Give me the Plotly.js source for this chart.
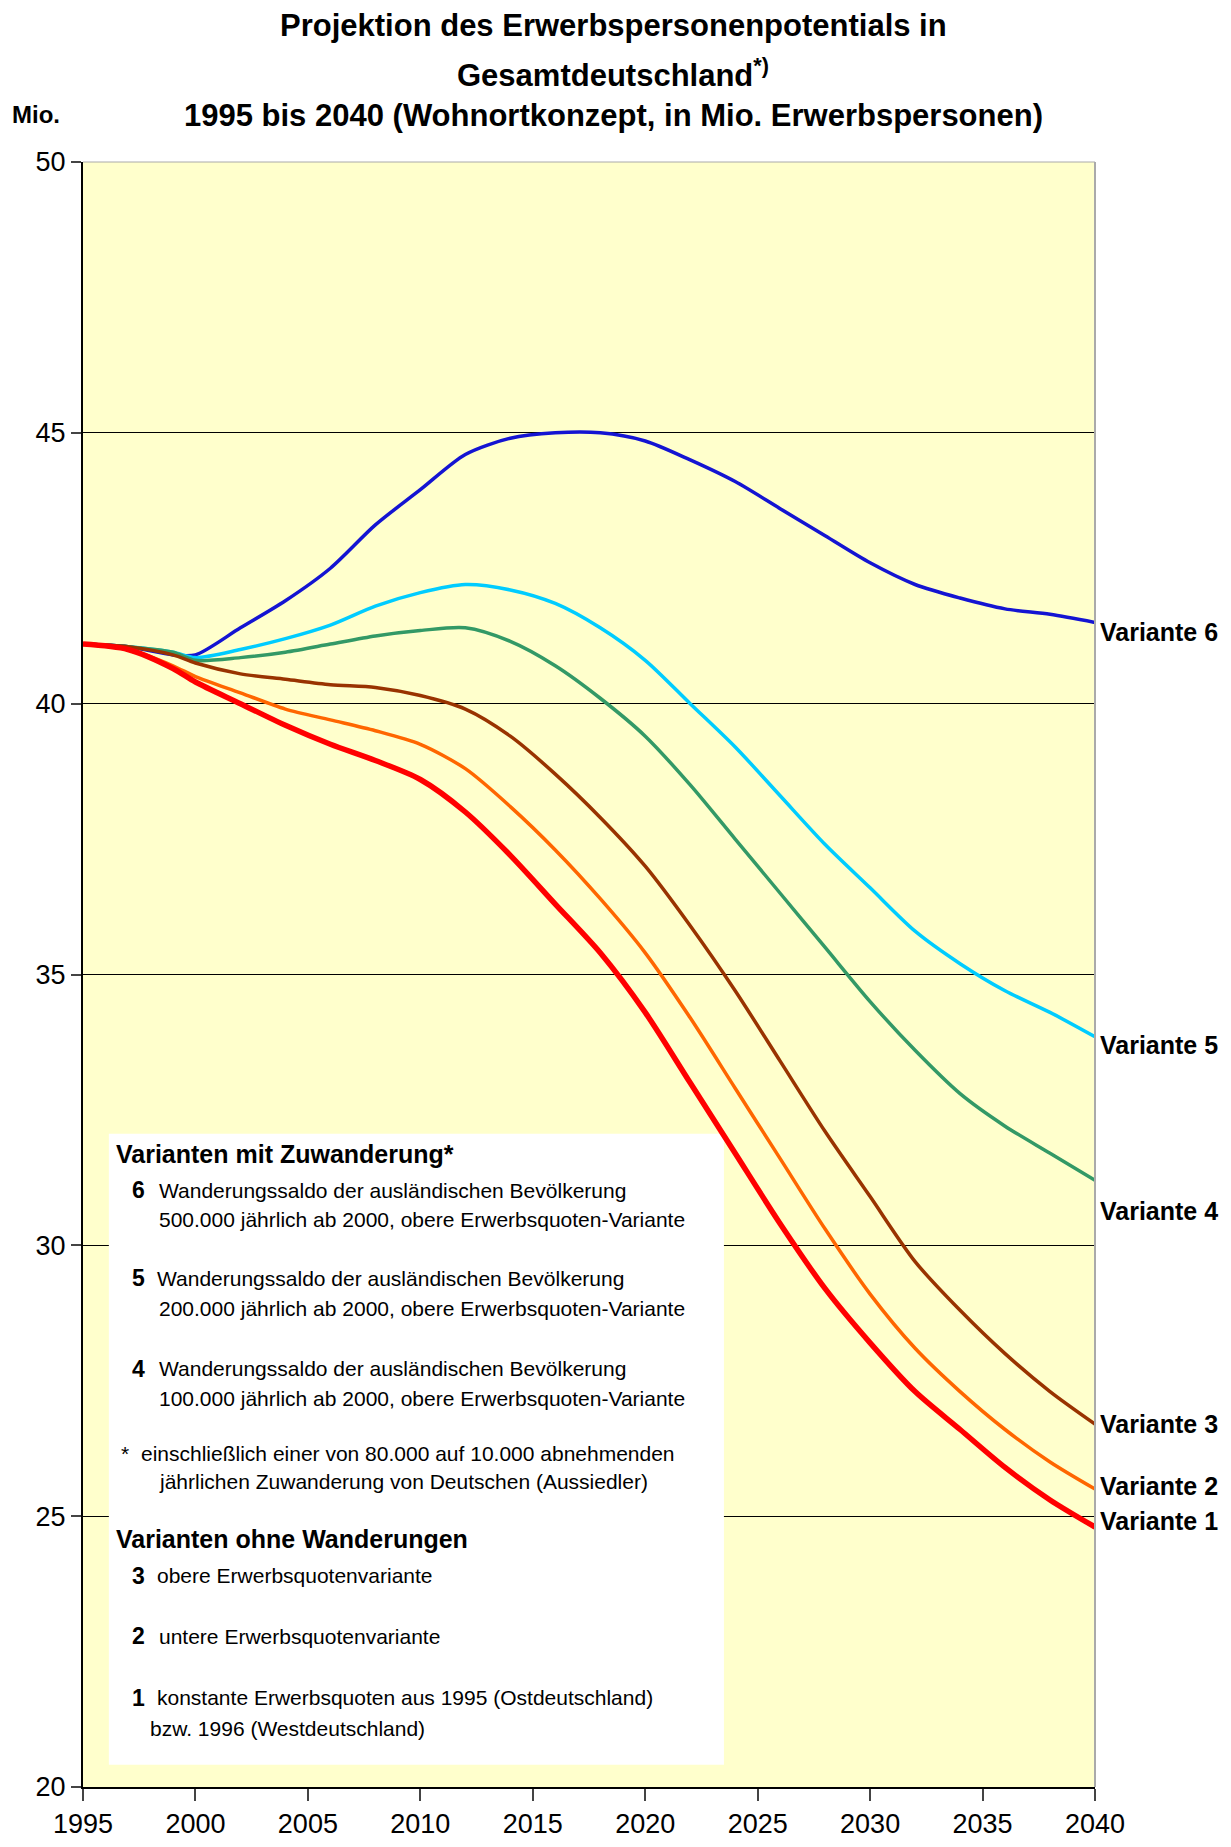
<!DOCTYPE html>
<html><head><meta charset="utf-8">
<script src="https://cdn.plot.ly/plotly-3.0.1.min.js"></script>
<style>body{margin:0;background:#fff}#c{width:1231px;height:1847px}</style>
</head><body><div id="c"></div>
<script>
const years = [1995,1997,1999,2000,2002,2004,2006,2008,2010,2012,2014,2016,2018,2020,2022,2024,2026,2028,2030,2032,2034,2036,2038,2040];
const v6 = [41.1,41.05,40.9,40.9,41.4,41.9,42.5,43.3,43.95,44.6,44.9,45.0,45.0,44.85,44.5,44.1,43.6,43.1,42.6,42.2,41.95,41.75,41.65,41.5];
const v5 = [41.1,41.05,40.95,40.85,41.0,41.2,41.45,41.8,42.05,42.2,42.1,41.85,41.4,40.8,40.0,39.2,38.3,37.4,36.6,35.8,35.2,34.7,34.3,33.85];
const v4 = [41.1,41.05,40.95,40.8,40.85,40.95,41.1,41.25,41.35,41.4,41.15,40.7,40.1,39.4,38.5,37.5,36.5,35.5,34.5,33.6,32.8,32.2,31.7,31.2];
const v3 = [41.1,41.05,40.9,40.75,40.55,40.45,40.35,40.3,40.15,39.9,39.4,38.7,37.9,37.0,35.9,34.7,33.4,32.1,30.9,29.7,28.8,28.0,27.3,26.7];
const v2 = [41.1,41.0,40.7,40.5,40.2,39.9,39.7,39.5,39.25,38.8,38.1,37.3,36.4,35.4,34.2,32.9,31.6,30.3,29.1,28.1,27.3,26.6,26.0,25.5];
const v1 = [41.1,41.0,40.65,40.4,40.0,39.6,39.25,38.95,38.6,38.0,37.2,36.3,35.4,34.3,33.0,31.7,30.4,29.2,28.2,27.3,26.6,25.9,25.3,24.8];
const names = ['Variante 6','Variante 5','Variante 4','Variante 3','Variante 2','Variante 1'];
const series = [v6,v5,v4,v3,v2,v1];
const colors = ['#1414d2','#00ccff','#339966','#993300','#ff6600','#ff0000'];
const widths = [3.5,3.5,3.5,3.5,3.5,5.5];
const labelY = [41.32,33.69,30.63,26.7,25.55,24.92];

const F = 'Liberation Sans, Arial, sans-serif';
// white legend panel as a filled trace, so it sits above the grid lines
const box = {x0:1996.15,x1:2023.5,y0:20.41,y1:32.06};
const traces = [{x:[box.x0,box.x1,box.x1,box.x0,box.x0], y:[box.y0,box.y0,box.y1,box.y1,box.y0],
  mode:'lines', fill:'toself', fillcolor:'#ffffff', line:{width:0,color:'#ffffff'}, hoverinfo:'skip'}];
series.forEach((s,i) => traces.push({x: years, y: s, mode:'lines', name: names[i],
  line:{color: colors[i], width: widths[i], shape:'spline', smoothing:0.8}}));

const ann = [];
const t = (x,y,text,size,bold,xref,yref,xa) => ann.push({x,y,xref:xref||'x',yref:yref||'y',
  text: bold?'<b>'+text+'</b>':text, showarrow:false, xanchor:xa||'left', yanchor:'middle',
  font:{family:F,size:size,color:'#000'}});

t(0.524,1.0837,'Projektion des Erwerbspersonenpotentials in',31,true,'paper','paper','center');
t(0.524,1.0548,'Gesamtdeutschland<sup>*)</sup>',31,true,'paper','paper','center');
t(0.524,1.0289,'1995 bis 2040 (Wohnortkonzept, in Mio. Erwerbspersonen)',31,true,'paper','paper','center');
t(-0.072,1.029,'Mio.',24,true,'paper','paper','left');
names.forEach((n,i)=>t(1.003,labelY[i],n,25,true,'paper','y','left'));

const s = 21;
t(1996.4,31.69,'Varianten mit Zuwanderung*',25,true);
t(1997.1,31.02,'6',23,true); t(1998.3,31.02,'Wanderungssaldo der ausländischen Bevölkerung',s);
t(1998.3,30.48,'500.000 jährlich ab 2000, obere Erwerbsquoten-Variante',s);
t(1997.1,29.39,'5',23,true); t(1998.2,29.39,'Wanderungssaldo der ausländischen Bevölkerung',s);
t(1998.3,28.83,'200.000 jährlich ab 2000, obere Erwerbsquoten-Variante',s);
t(1997.1,27.72,'4',23,true); t(1998.3,27.72,'Wanderungssaldo der ausländischen Bevölkerung',s);
t(1998.3,27.18,'100.000 jährlich ab 2000, obere Erwerbsquoten-Variante',s);
t(1996.6,26.16,'*',s); t(1997.5,26.16,'einschließlich einer von 80.000 auf 10.000 abnehmenden',s);
t(1998.3,25.64,'jährlichen Zuwanderung von Deutschen (Aussiedler)',s);
t(1996.4,24.58,'Varianten ohne Wanderungen',25,true);
t(1997.1,23.9,'3',23,true); t(1998.2,23.9,'obere Erwerbsquotenvariante',s);
t(1997.1,22.78,'2',23,true); t(1998.3,22.78,'untere Erwerbsquotenvariante',s);
t(1997.1,21.65,'1',23,true); t(1998.2,21.65,'konstante Erwerbsquoten aus 1995 (Ostdeutschland)',s);
t(1997.9,21.08,'bzw. 1996 (Westdeutschland)',s);

Plotly.newPlot('c', traces, {
  width:1231, height:1847, showlegend:false,
  margin:{l:83,r:136,t:162,b:60},
  paper_bgcolor:'#fff', plot_bgcolor:'#ffffcc',
  font:{family:F,color:'#000'},
  xaxis:{range:[1995,2040],tickvals:[1995,2000,2005,2010,2015,2020,2025,2030,2035,2040],
    ticks:'outside',ticklen:12,tickwidth:2,showgrid:false,showline:true,linewidth:2,linecolor:'#000',
    tickfont:{size:27},zeroline:false},
  yaxis:{range:[20,50],dtick:5,ticks:'outside',ticklen:10,tickwidth:2,showgrid:true,gridcolor:'#000',gridwidth:1,
    showline:true,linewidth:2,linecolor:'#000',tickfont:{size:27},zeroline:false},
  shapes:[
    {type:'line',xref:'paper',yref:'paper',x0:1,x1:1,y0:0,y1:1,line:{color:'#aaa',width:2}},
    {type:'line',xref:'paper',yref:'paper',x0:0,x1:1,y0:1,y1:1,line:{color:'#aaa',width:1}}
  ],
  annotations: ann
}, {displayModeBar:false});
</script></body></html>
